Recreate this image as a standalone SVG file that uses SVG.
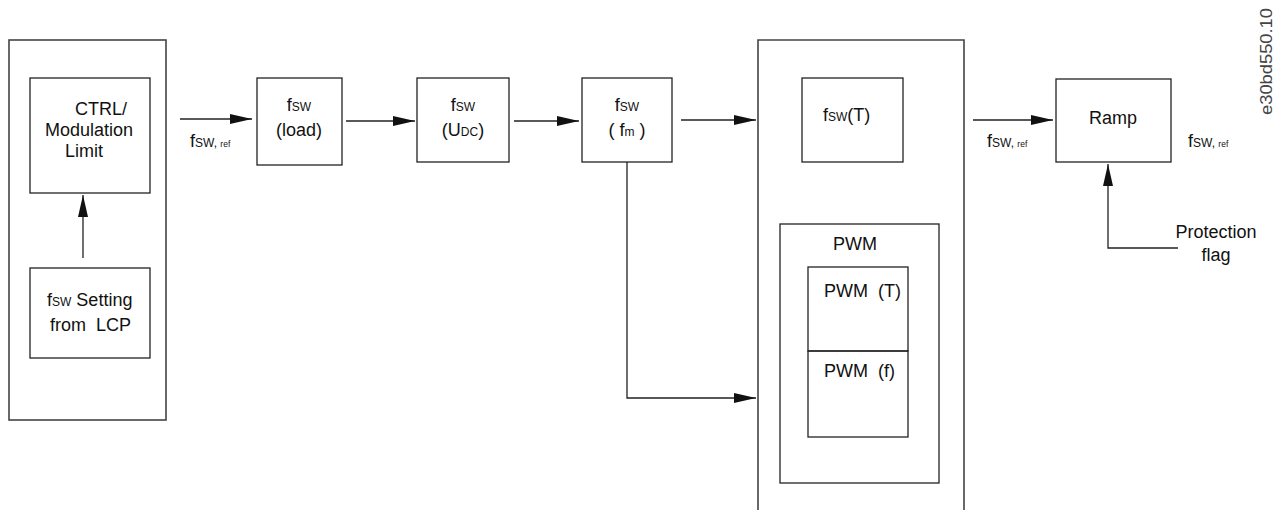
<svg xmlns="http://www.w3.org/2000/svg" width="1281" height="510" viewBox="0 0 1281 510" xml:space="preserve">
<style>
.box{fill:none;stroke:#222;stroke-width:1.3}
.frame{fill:none;stroke:#444;stroke-width:1.6}
.ln{fill:none;stroke:#222;stroke-width:1.3}
text{font-family:"Liberation Sans",Arial,sans-serif;font-size:18px;fill:#111;white-space:pre}
.sub{font-size:12px}
.sub2{font-size:8.5px}
.id{font-size:16px;fill:#444}
</style>
<defs>
<marker id="arr" markerUnits="userSpaceOnUse" markerWidth="24" markerHeight="12" refX="22" refY="6" orient="auto">
<path d="M0,1 L22,6 L0,11 Z" fill="#111"/>
</marker>
</defs>

<g id="left-frame">
<rect class="frame" x="9" y="40" width="157" height="380"/>
</g>
<g id="ctrl">
<rect class="box" x="30" y="78" width="120" height="115"/>
<text x="75" y="115">CTRL/</text>
<text x="89" y="136" text-anchor="middle">Modulation</text>
<text x="84" y="157" text-anchor="middle">Limit</text>
</g>
<g id="setting">
<rect class="box" x="30" y="268" width="120" height="90"/>
<text x="47" y="306">f<tspan class="sub">SW</tspan> Setting</text>
<text x="50" y="331">from  LCP</text>
</g>
<g id="load">
<rect class="box" x="257" y="78" width="85" height="87"/>
<text x="299" y="111" text-anchor="middle">f<tspan class="sub">SW</tspan></text>
<text x="299" y="136" text-anchor="middle">(load)</text>
</g>
<g id="udc">
<rect class="box" x="417" y="78" width="92" height="84"/>
<text x="463" y="111" text-anchor="middle">f<tspan class="sub">SW</tspan></text>
<text x="463" y="136" text-anchor="middle">(U<tspan class="sub">DC</tspan>)</text>
</g>
<g id="fm">
<rect class="box" x="582" y="78" width="90" height="84"/>
<text x="627" y="111" text-anchor="middle">f<tspan class="sub">SW</tspan></text>
<text x="627" y="136" text-anchor="middle">( f<tspan class="sub">m</tspan> )</text>
</g>
<g id="right-frame">
<path class="frame" d="M758,512 V40 H964 V512"/>
</g>
<g id="fswT">
<rect class="box" x="802" y="78" width="101" height="84"/>
<text x="823" y="121">f<tspan class="sub">SW</tspan>(T)</text>
</g>
<g id="pwm">
<rect class="box" x="780" y="224" width="159" height="259"/>
<text x="855" y="250" text-anchor="middle">PWM</text>
</g>
<g id="pwmT">
<rect class="box" x="808" y="267" width="100" height="84"/>
<text x="824" y="297">PWM  (T)</text>
</g>
<g id="pwmf">
<rect class="box" x="808" y="351" width="100" height="86"/>
<text x="824" y="377">PWM  (f)</text>
</g>
<g id="ramp">
<rect class="box" x="1056" y="79" width="115" height="83"/>
<text x="1113" y="124" text-anchor="middle">Ramp</text>
</g>
<g id="protection">
<text x="1216" y="238" text-anchor="middle">Protection</text>
<text x="1216" y="261" text-anchor="middle">flag</text>
</g>
<g id="labels">
<text x="190" y="147">f<tspan class="sub">SW, </tspan><tspan class="sub2">ref</tspan></text>
<text x="987" y="147">f<tspan class="sub">SW, </tspan><tspan class="sub2">ref</tspan></text>
<text x="1188" y="147">f<tspan class="sub">SW, </tspan><tspan class="sub2">ref</tspan></text>
<text class="id" transform="translate(1272,115) rotate(-90)" textLength="107" lengthAdjust="spacingAndGlyphs">e30bd550.10</text>
</g>
<g id="connectors">
<line class="ln" x1="83" y1="258" x2="83" y2="195" marker-end="url(#arr)"/>
<line class="ln" x1="180" y1="119" x2="252" y2="119" marker-end="url(#arr)"/>
<line class="ln" x1="346" y1="121" x2="415" y2="121" marker-end="url(#arr)"/>
<line class="ln" x1="514" y1="121" x2="579" y2="121" marker-end="url(#arr)"/>
<line class="ln" x1="681" y1="120" x2="756" y2="120" marker-end="url(#arr)"/>
<path class="ln" d="M627,162 V398 H756" marker-end="url(#arr)"/>
<line class="ln" x1="973" y1="120" x2="1053" y2="120" marker-end="url(#arr)"/>
<path class="ln" d="M1178,248 H1108 V164" marker-end="url(#arr)"/>
</g>
</svg>
